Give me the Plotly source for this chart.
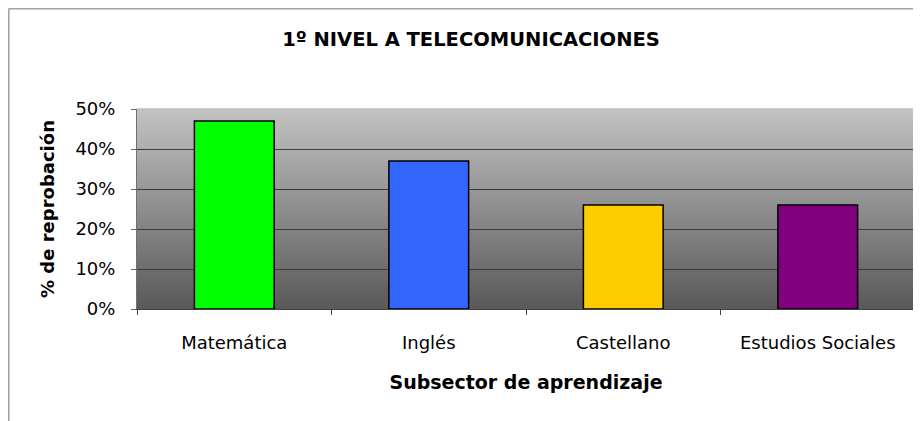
import base64
import plotly.graph_objects as go

categories = ["Matemática", "Inglés", "Castellano", "Estudios Sociales"]
values = [0.47, 0.37, 0.26, 0.26]
bar_colors = ["#00ff00", "#3366ff", "#ffcc00", "#800080"]
y_ticks = [0, 0.1, 0.2, 0.3, 0.4, 0.5]
y_tick_labels = ["0%", "10%", "20%", "30%", "40%", "50%"]

title_text = "1º NIVEL A TELECOMUNICACIONES"
x_title = "Subsector de aprendizaje"
y_title = "% de reprobación"

FONT = "DejaVu Sans, Liberation Sans, Arial, sans-serif"

# page body has an 8px default margin: figure coords = screen coords - 8
W, H = 913, 413
L, R, T, B = 129, 6, 101, 112
PW, PH = W - L - R, H - T - B

svg = (
    '<svg xmlns="http://www.w3.org/2000/svg" width="100" height="100" preserveAspectRatio="none">'
    '<defs><linearGradient id="g" x1="0" y1="0" x2="0" y2="1">'
    '<stop offset="0" stop-color="#c2c2c2"/><stop offset="1" stop-color="#595959"/>'
    '</linearGradient></defs><rect width="100" height="100" fill="url(#g)"/></svg>'
)
svg_uri = "data:image/svg+xml;base64," + base64.b64encode(svg.encode()).decode()

fig = go.Figure()
fig.add_trace(go.Bar(
    x=categories, y=values, width=0.41,
    marker=dict(color=bar_colors, line=dict(color="#000000", width=1.5)),
    hoverinfo="skip",
))

fx = lambda px: (px - L) / PW
fy = lambda py: (T + PH - py) / PH

fig.update_layout(
    width=W, height=H,
    margin=dict(l=L, r=R, t=T, b=B, autoexpand=False),
    paper_bgcolor="white", plot_bgcolor="rgba(0,0,0,0)",
    showlegend=False,
    font=dict(family=FONT, color="#000000"),
    title=dict(text="<b>" + title_text + "</b>", x=463 / W, xref="container", xanchor="center",
               y=1 - 31 / H, yref="container", yanchor="middle",
               font=dict(size=19.5, family=FONT)),
    images=[dict(source=svg_uri, xref="x domain", yref="y domain", x=0, y=1,
                 sizex=1, sizey=1, xanchor="left", yanchor="top",
                 sizing="stretch", layer="below")],
    shapes=[
        dict(type="rect", xref="x domain", yref="y domain", x0=0, x1=1, y0=0, y1=1,
             line=dict(color="#9a9a9a", width=1), layer="below"),
        dict(type="line", xref="paper", yref="paper",
             x0=fx(0.6), x1=fx(0.6), y0=fy(0.6), y1=fy(H + 5),
             line=dict(color="#a3a3a3", width=2)),
        dict(type="line", xref="paper", yref="paper",
             x0=fx(0.6), x1=fx(W + 5), y0=fy(0.6), y1=fy(0.6),
             line=dict(color="#a3a3a3", width=2)),
    ],
)

fig.update_xaxes(
    showgrid=False, showline=True, linecolor="#404040", linewidth=1,
    ticks="outside", ticklen=5, tickcolor="#404040", tickson="boundaries",
    tickfont=dict(size=18, family=FONT), ticklabelstandoff=17,
    title=dict(text="<b>" + x_title + "</b>", font=dict(size=19, family=FONT), standoff=24),
)
fig.update_yaxes(
    range=[0, 0.5], tickvals=y_ticks, ticktext=y_tick_labels,
    showgrid=True, gridcolor="#3a3a3a", gridwidth=1,
    showline=True, linecolor="#707070", linewidth=1,
    ticks="outside", ticklen=5, tickcolor="#707070",
    tickfont=dict(size=18, family=FONT), ticklabelstandoff=12,
    zeroline=False,
    title=dict(text="<b>" + y_title + "</b>", font=dict(size=18, family=FONT), standoff=16),
)

fig.write_html("out.html")
